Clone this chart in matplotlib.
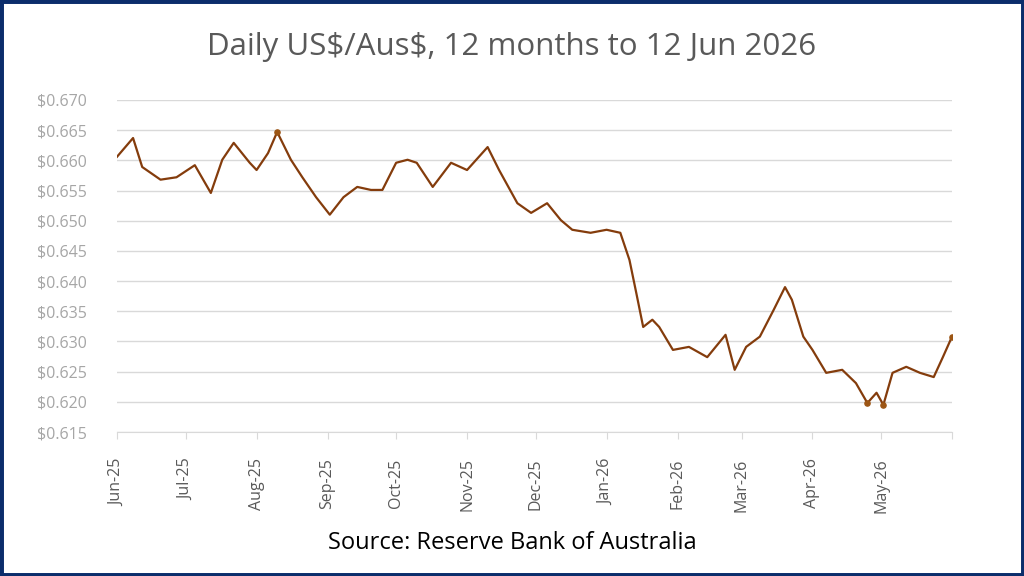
import numpy as np
import pandas as pd
import matplotlib
matplotlib.use("Agg")
import matplotlib.pyplot as plt
import matplotlib.dates as mdates
from matplotlib.patches import Rectangle
from matplotlib.ticker import FuncFormatter, MultipleLocator

# values (US$ per Aus$)
dates = ["2025-06-01", "2025-06-08", "2025-06-12", "2025-06-20", "2025-06-27",
         "2025-07-05", "2025-07-12", "2025-07-17", "2025-07-22", "2025-07-29",
         "2025-08-01", "2025-08-06", "2025-08-10", "2025-08-16", "2025-08-21",
         "2025-08-27", "2025-09-02", "2025-09-08", "2025-09-14", "2025-09-20",
         "2025-09-25", "2025-10-01", "2025-10-06", "2025-10-10", "2025-10-17",
         "2025-10-25", "2025-11-01", "2025-11-10", "2025-11-15", "2025-11-23",
         "2025-11-29", "2025-12-06", "2025-12-12", "2025-12-17", "2025-12-25",
         "2026-01-01", "2026-01-07", "2026-01-11", "2026-01-14", "2026-01-17",
         "2026-01-21", "2026-01-24", "2026-01-30", "2026-02-06", "2026-02-14",
         "2026-02-22", "2026-02-26", "2026-03-03", "2026-03-09", "2026-03-15",
         "2026-03-20", "2026-03-23", "2026-03-28", "2026-04-01", "2026-04-07",
         "2026-04-14", "2026-04-20", "2026-04-25", "2026-04-29", "2026-05-02",
         "2026-05-06", "2026-05-12", "2026-05-18", "2026-05-24", "2026-05-28",
         "2026-06-01"]
rate = [0.6606, 0.6637, 0.6589, 0.6568, 0.6572,
        0.6592, 0.6546, 0.6601, 0.6629, 0.6596,
        0.6584, 0.6612, 0.6647, 0.6601, 0.6572,
        0.6539, 0.6510, 0.6539, 0.6556, 0.6551,
        0.6551, 0.6596, 0.6601, 0.6596, 0.6556,
        0.6596, 0.6584, 0.6622, 0.6584, 0.6529,
        0.6513, 0.6529, 0.6501, 0.6485, 0.6480,
        0.6485, 0.6480, 0.6435, 0.6380, 0.6324,
        0.6336, 0.6324, 0.6286, 0.6291, 0.6274,
        0.6311, 0.6253, 0.6291, 0.6308, 0.6352,
        0.6390, 0.6369, 0.6308, 0.6286, 0.6248,
        0.6253, 0.6231, 0.6198, 0.6215, 0.6195,
        0.6248, 0.6258, 0.6248, 0.6241, 0.6274,
        0.6308]

dates = pd.to_datetime(dates)
rate = np.array(rate)

line_col = '#843c0c'
dot_col = '#9c5514'
grey = '#595959'

fig = plt.figure(figsize=(10.24, 5.76), dpi=100)
ax = fig.add_axes([0.1143, 0.25, 0.8154, 0.5764])

ax.plot(dates, rate, color=line_col, lw=1.6, zorder=3)

# highlight the high, the lows and the latest value
hi = np.argmax(rate)
lows = np.where(rate <= 0.620)[0]
pts = [hi] + list(lows) + [len(rate) - 1]
ax.scatter(dates[pts], rate[pts], s=14, color=dot_col, zorder=4)

ax.set_xlim(pd.Timestamp("2025-06-01"), pd.Timestamp("2026-06-01"))
ax.set_ylim(0.615, 0.670)
ax.yaxis.set_major_locator(MultipleLocator(0.005))
ax.yaxis.set_major_formatter(FuncFormatter(lambda v, p: "$%.3f" % v))
ax.grid(axis='y', color='#d9d9d9', lw=1)
ax.set_axisbelow(True)

# month ticks; the closing tick at 1 Jun 2026 has no label
last = mdates.date2num(pd.Timestamp("2026-06-01"))
ax.xaxis.set_major_locator(mdates.MonthLocator())
ax.xaxis.set_major_formatter(FuncFormatter(
    lambda v, p: "" if v >= last else mdates.num2date(v).strftime('%b-%y')))
plt.setp(ax.get_xticklabels(), rotation=90, fontsize=11.5, color=grey,
         family='Open Sans')
plt.setp(ax.get_yticklabels(), fontsize=11.5, color='#a6a6a6', family='Open Sans')

for s in ['top', 'right', 'left']:
    ax.spines[s].set_visible(False)
ax.spines['bottom'].set_color('#d9d9d9')
ax.tick_params(axis='x', length=5, color='#d9d9d9', pad=14)
ax.tick_params(axis='y', length=0, pad=22)

fig.text(0.5, 0.918, r"Daily US\$/Aus\$, 12 months to 12 Jun 2026", ha='center',
         va='center', fontsize=22.5, color=grey, family='Open Sans')
fig.text(0.5, 0.057, "Source: Reserve Bank of Australia", ha='center',
         va='center', fontsize=17, color='black', family='Open Sans')

fig.patches.append(Rectangle((0, 0), 1, 1, transform=fig.transFigure,
                             fill=False, edgecolor='#0b2d6b', lw=5))

fig.savefig('out.png', dpi=100)
